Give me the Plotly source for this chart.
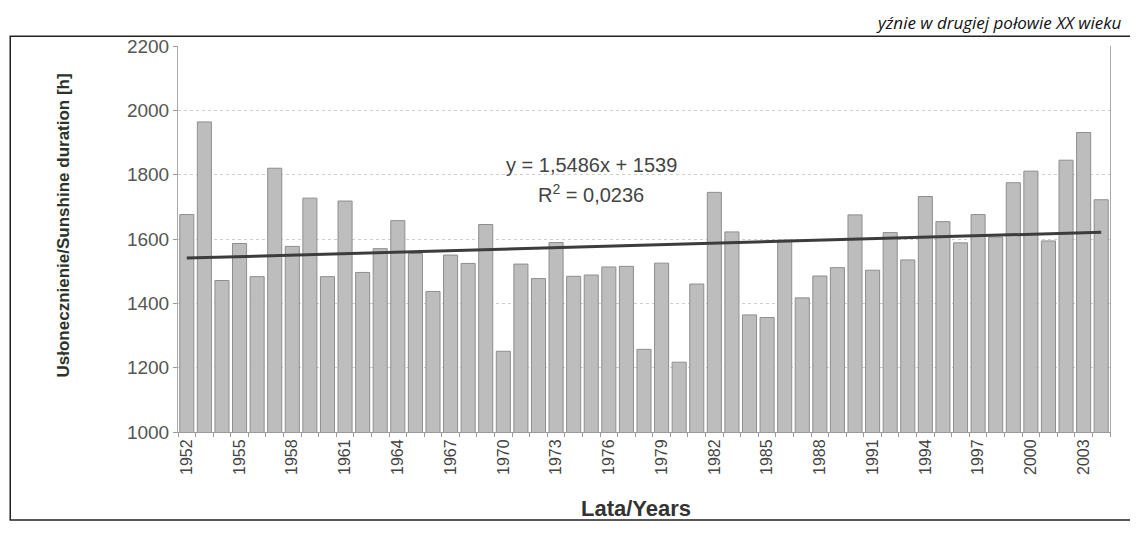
import plotly.graph_objects as go

# sunshine duration per year [h]
years = list(range(1952, 2005))
sunshine = [
    1676, 1964, 1471, 1586, 1483, 1820, 1577, 1727, 1483, 1718,
    1496, 1570, 1657, 1555, 1437, 1550, 1524, 1645, 1251, 1522,
    1477, 1589, 1484, 1488, 1513, 1515, 1257, 1525, 1217, 1460,
    1745, 1622, 1364, 1356, 1596, 1417, 1485, 1511, 1675, 1503,
    1620, 1535, 1732, 1654, 1588, 1676, 1606, 1775, 1811, 1594,
    1845, 1931, 1722,
]
label_years = years[::3]
y_ticks = [1000, 1200, 1400, 1600, 1800, 2000, 2200]

# linear trend as printed on the chart
slope, intercept = 1.5486, 1539
trend = [intercept + slope * (i + 1) for i in range(len(years))]

NARROW = "Liberation Sans Narrow, Arial Narrow, Liberation Sans"

fig = go.Figure()
fig.add_trace(go.Bar(x=years, y=sunshine, marker_color="#bdbdbd",
                     marker_line_color="#8e8e8e", marker_line_width=1,
                     showlegend=False))
fig.add_trace(go.Scatter(x=years, y=trend, mode="lines",
                         line=dict(color="#3c3c3c", width=3),
                         showlegend=False))

fig.update_layout(
    width=1130, height=536,
    margin=dict(l=170, r=28, t=38, b=112),
    paper_bgcolor="white", plot_bgcolor="white",
    bargap=0.2,
    font=dict(family="Liberation Sans, Arial, sans-serif", color="#444"),
)
fig.update_xaxes(range=[1951.5, 2004.5], tickvals=label_years,
                 tickangle=-90, tickfont=dict(size=16, color="#444"),
                 ticks="", showgrid=False, zeroline=False,
                 showline=True, linecolor="#9a9a9a", linewidth=1,
                 minor=dict(tickvals=[y - 0.5 for y in years] + [2004.5],
                            ticks="outside", ticklen=4, tickcolor="#9a9a9a"))
fig.update_yaxes(range=[1000, 2200], tickvals=y_ticks,
                 tickfont=dict(size=19, color="#555"),
                 ticks="outside", ticklen=4, tickcolor="#9a9a9a",
                 showgrid=True, gridcolor="#cfcfcf", griddash="dot",
                 showline=True, linecolor="#a8a8a8", linewidth=1, mirror=True,
                 zeroline=False)

# trend equation
fig.add_annotation(x=1975, y=1830, text="y = 1,5486x + 1539", showarrow=False,
                   yanchor="middle", font=dict(size=20, color="#444"))
fig.add_annotation(x=1975, y=1743, text="R<sup>2</sup> = 0,0236", showarrow=False,
                   yanchor="middle", font=dict(size=20, color="#444"))

# axis titles
fig.add_annotation(xref="paper", yref="paper", x=-0.123, y=0.536,
                   xanchor="center", yanchor="middle",
                   text="<b>Usłonecznienie/Sunshine duration [h]</b>",
                   textangle=-90, showarrow=False,
                   font=dict(family=NARROW, size=17, color="#2b332b"))
fig.add_annotation(xref="paper", yref="paper", x=0.491, y=-0.197,
                   xanchor="center", yanchor="middle",
                   text="<b>Lata/Years</b>", showarrow=False,
                   font=dict(family=NARROW, size=22, color="#333"))

# page caption at the top of the scan
fig.add_annotation(xref="paper", yref="paper", x=1.015, y=1.062,
                   xanchor="right", yanchor="middle",
                   text="<i>yźnie w drugiej połowie XX wieku</i>", showarrow=False,
                   font=dict(family="Open Sans, Noto Sans", size=17, color="#111"))

# chart frame
fig.add_shape(type="rect", xref="paper", yref="paper",
              x0=-0.18, x1=1.07, y0=-0.228, y1=1.025,
              line=dict(color="#222", width=1.5))

fig.write_html("out.html")
